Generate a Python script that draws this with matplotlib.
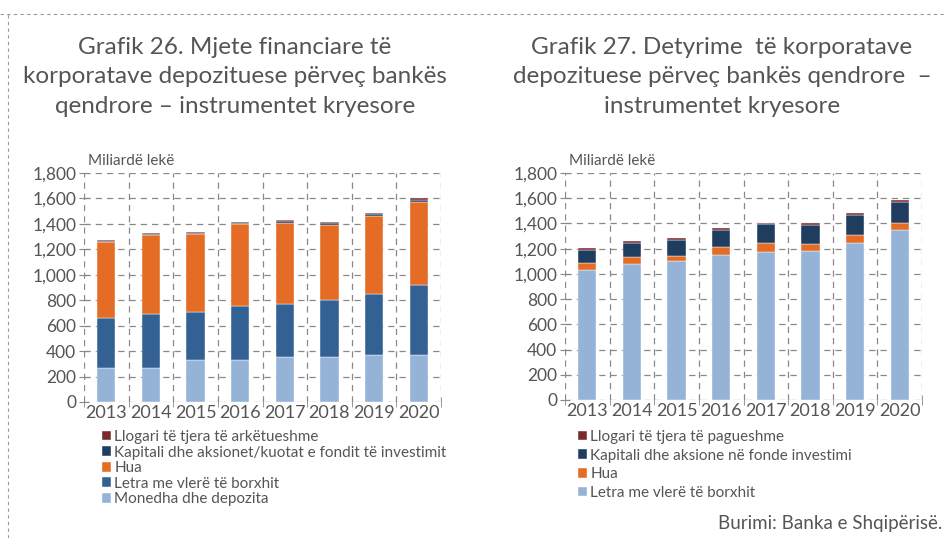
import matplotlib
matplotlib.use("Agg")
import matplotlib.pyplot as plt
import numpy as np
from matplotlib.lines import Line2D

years = ["2013", "2014", "2015", "2016", "2017", "2018", "2019", "2020"]

# Grafik 26 - mjete financiare (miliarde leke)
monedha = [271, 271, 328, 331, 352, 357, 373, 368]
letra = [390, 422, 376, 425, 417, 444, 477, 553]
hua = [599, 620, 616, 641, 638, 593, 612, 654]
kapitali = [8, 7, 8, 9, 12, 11, 14, 15]
llogari_ark = [8, 6, 8, 9, 12, 10, 10, 14]

# Grafik 27 - detyrime (miliarde leke)
letra_d = [1033, 1080, 1101, 1152, 1175, 1183, 1247, 1345]
hua_d = [53, 56, 40, 58, 70, 56, 61, 56]
kapitali_d = [103, 111, 124, 135, 148, 146, 156, 166]
llogari_pag = [18, 16, 19, 16, 10, 16, 16, 19]

c_lightblue = "#95B3D7"
c_blue = "#346194"
c_orange = "#E46C25"
c_navy = "#1F3D5F"
c_red = "#7A2A2A"
txt = "#555555"

plt.rcParams['font.family'] = ['Lato', 'DejaVu Sans']

fig = plt.figure(figsize=(9.45, 5.38), dpi=100)

def style_axes(ax):
    for s in ax.spines.values():
        s.set_visible(False)
    ax.set_ylim(0, 1800)
    ax.set_xlim(-0.5, 7.5)
    ax.set_yticks(np.arange(0, 1801, 200))
    ax.set_yticklabels([f"{v:,}" for v in range(0, 1801, 200)])
    ax.set_xticks(range(8))
    ax.set_xticklabels(years)
    ax.set_xticks(np.arange(-0.5, 8, 1), minor=True)
    ax.grid(True, axis='y', which='major', color='#888888', linestyle=(0, (5, 4)), linewidth=0.9)
    ax.grid(True, axis='x', which='minor', color='#888888', linestyle=(0, (5, 4)), linewidth=0.9)
    ax.grid(False, axis='x', which='major')
    ax.tick_params(axis='y', direction='inout', length=7, color='#888888', labelsize=12.5, labelcolor=txt, pad=2)
    ax.tick_params(axis='x', which='major', length=0, labelsize=13, labelcolor=txt, pad=2)
    ax.tick_params(axis='x', which='minor', direction='inout', length=7, color='#888888')
    ax.set_axisbelow(True)
    ax.text(0.01, 1.035, "Miliardë lekë", transform=ax.transAxes, fontsize=11, color=txt)

x = np.arange(len(years))
w = 0.41

# left chart
ax1 = fig.add_axes([84 / 945, 1 - 402 / 538, 357 / 945, 229 / 538])
b = np.zeros(len(years))
series1 = [(monedha, c_lightblue, "Monedha dhe depozita"),
           (letra, c_blue, "Letra me vlerë të borxhit"),
           (hua, c_orange, "Hua"),
           (kapitali, c_navy, "Kapitali dhe aksionet/kuotat e fondit të investimit"),
           (llogari_ark, c_red, "Llogari të tjera të arkëtueshme")]
for vals, col, lab in series1:
    ax1.bar(x, vals, w, bottom=b, color=col, label=lab, edgecolor='white', linewidth=0.3)
    b += np.array(vals)
style_axes(ax1)
h, l = ax1.get_legend_handles_labels()
fig.legend(h[::-1], l[::-1], loc='upper left', bbox_to_anchor=(102 / 945, 1 - 430 / 538),
           frameon=False, fontsize=11, labelcolor=txt, handlelength=0.6, handleheight=0.6,
           handletextpad=0.2, labelspacing=0.1, borderaxespad=0, borderpad=0)

# right chart
ax2 = fig.add_axes([565 / 945, 1 - 400 / 538, 357 / 945, 227 / 538])
b = np.zeros(len(years))
series2 = [(letra_d, c_lightblue, "Letra me vlerë të borxhit"),
           (hua_d, c_orange, "Hua"),
           (kapitali_d, c_navy, "Kapitali dhe aksione në fonde investimi"),
           (llogari_pag, c_red, "Llogari të tjera të pagueshme")]
for vals, col, lab in series2:
    ax2.bar(x, vals, w, bottom=b, color=col, label=lab, edgecolor='white', linewidth=0.3)
    b += np.array(vals)
style_axes(ax2)
h, l = ax2.get_legend_handles_labels()
fig.legend(h[::-1], l[::-1], loc='upper left', bbox_to_anchor=(578 / 945, 1 - 430 / 538),
           frameon=False, fontsize=11, labelcolor=txt, handlelength=0.6, handleheight=0.6,
           handletextpad=0.2, labelspacing=0.3, borderaxespad=0, borderpad=0)

# titles
fig.text(235 / 945, 1 - 37 / 538,
         "Grafik 26. Mjete financiare të\nkorporatave depozituese përveç bankës\nqendrore – instrumentet kryesore",
         ha='center', va='top', fontsize=17.5, color=txt, linespacing=1.5)
fig.text(722 / 945, 1 - 37 / 538,
         "Grafik 27. Detyrime  të korporatave\ndepozituese përveç bankës qendrore  –\ninstrumentet kryesore",
         ha='center', va='top', fontsize=17.5, color=txt, linespacing=1.5)

fig.text(942 / 945, 1 - 524 / 538, "Burimi: Banka e Shqipërisë.", ha='right', va='center',
         fontsize=13.5, color=txt)

# page frame
fig.add_artist(Line2D([0, 1], [1 - 14 / 538, 1 - 14 / 538], transform=fig.transFigure,
                      color='#999999', linestyle=(0, (3, 3)), linewidth=0.8))
fig.add_artist(Line2D([8 / 945, 8 / 945], [0, 1 - 14 / 538], transform=fig.transFigure,
                      color='#999999', linestyle=(0, (3, 3)), linewidth=0.8))

fig.savefig("out.png", dpi=100)
